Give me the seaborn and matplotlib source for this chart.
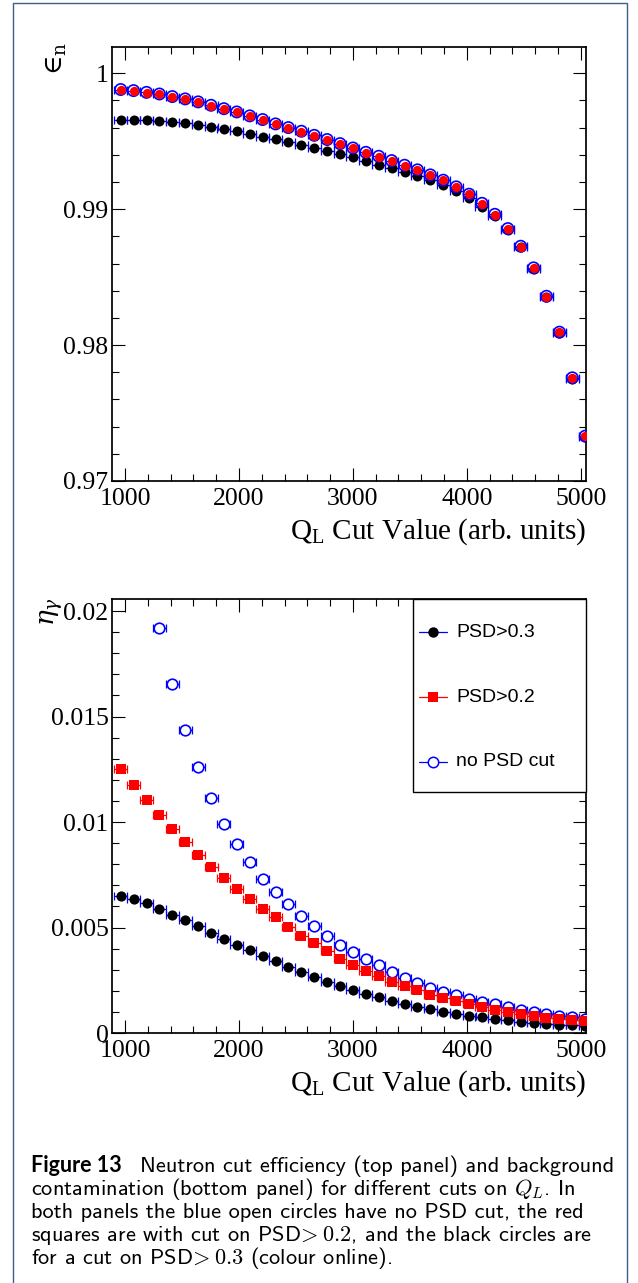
import numpy as np
import matplotlib
matplotlib.use("Agg")
import matplotlib.pyplot as plt
import seaborn as sns
from matplotlib.ticker import MultipleLocator, FuncFormatter
from matplotlib.lines import Line2D
from matplotlib.patches import Rectangle

# ---------------- data ----------------
x_cut = [962, 1075, 1189, 1302, 1415, 1528, 1642, 1755, 1868, 1981, 2095, 2208,
         2321, 2434, 2548, 2661, 2774, 2887, 3001, 3114, 3227, 3340, 3454, 3567,
         3680, 3793, 3907, 4020, 4133, 4246, 4360, 4473, 4586, 4699, 4813, 4926, 5039]
x_halfbin = 57

# top panel: neutron efficiency
eff_psd03 = [0.99657, 0.99657, 0.99654, 0.99649, 0.99640, 0.99632, 0.99618, 0.99603,
             0.99588, 0.99574, 0.99554, 0.99534, 0.99515, 0.99495, 0.99475, 0.99453,
             0.99429, 0.99404, 0.99380, 0.99355, 0.99328, 0.99301, 0.99272, 0.99245,
             0.99215, 0.99179, 0.99137, 0.99085, 0.99019, 0.98946, 0.98843, 0.98718,
             0.98560, 0.98352, 0.98089, 0.97753, 0.97325]
eff_psd02 = [0.99877, 0.99870, 0.99857, 0.99845, 0.99826, 0.99809, 0.99787, 0.99762,
             0.99737, 0.99713, 0.99684, 0.99657, 0.99625, 0.99598, 0.99571, 0.99541,
             0.99510, 0.99480, 0.99448, 0.99416, 0.99387, 0.99355, 0.99321, 0.99287,
             0.99250, 0.99211, 0.99162, 0.99108, 0.99041, 0.98960, 0.98855, 0.98725,
             0.98566, 0.98357, 0.98093, 0.97757, 0.97328]
eff_nocut = [0.99880, 0.99872, 0.99859, 0.99847, 0.99828, 0.99811, 0.99789, 0.99764,
             0.99739, 0.99715, 0.99686, 0.99659, 0.99627, 0.99600, 0.99573, 0.99543,
             0.99512, 0.99482, 0.99450, 0.99418, 0.99389, 0.99357, 0.99323, 0.99289,
             0.99252, 0.99213, 0.99164, 0.99110, 0.99043, 0.98962, 0.98857, 0.98727,
             0.98568, 0.98359, 0.98095, 0.97759, 0.97330]

# bottom panel: background contamination
eta_psd03 = [0.00648, 0.00635, 0.00616, 0.00590, 0.00561, 0.00534, 0.00506, 0.00476,
             0.00446, 0.00419, 0.00392, 0.00367, 0.00342, 0.00315, 0.00290, 0.00266,
             0.00243, 0.00222, 0.00203, 0.00184, 0.00169, 0.00153, 0.00139, 0.00124,
             0.00112, 0.00101, 0.00091, 0.00082, 0.00074, 0.00066, 0.00060, 0.00053,
             0.00049, 0.00044, 0.00039, 0.00036, 0.00033]
eta_psd02 = [0.01250, 0.01174, 0.01105, 0.01035, 0.00968, 0.00905, 0.00845, 0.00788,
             0.00733, 0.00684, 0.00637, 0.00590, 0.00548, 0.00504, 0.00462, 0.00426,
             0.00388, 0.00353, 0.00322, 0.00296, 0.00271, 0.00244, 0.00224, 0.00202,
             0.00181, 0.00164, 0.00150, 0.00136, 0.00122, 0.00110, 0.00099, 0.00090,
             0.00080, 0.00072, 0.00066, 0.00060, 0.00055]
eta_nocut = [np.nan, np.nan, np.nan, 0.01918, 0.01652, 0.01434, 0.01259, 0.01114,
             0.00991, 0.00894, 0.00809, 0.00731, 0.00668, 0.00610, 0.00553, 0.00506,
             0.00462, 0.00419, 0.00383, 0.00350, 0.00320, 0.00288, 0.00262, 0.00235,
             0.00214, 0.00195, 0.00178, 0.00162, 0.00148, 0.00136, 0.00121, 0.00110,
             0.00099, 0.00090, 0.00082, 0.00076, 0.00068]

legend_labels = ["PSD>0.3", "PSD>0.2", "no PSD cut"]
x_title = r"$\mathregular{Q_{L}}$ Cut Value (arb. units)"
y_title_top = "\u2208" + r"$_{\mathrm{n}}$"
y_title_bottom = r"$\eta_{\gamma}$"
caption_bold = "Figure 13"
caption_lines = [
    "Neutron cut efficiency (top panel) and background",
    r"contamination (bottom panel) for different cuts on $Q_L$. In",
    "both panels the blue open circles have no PSD cut, the red",
    r"squares are with cut on PSD$\!>0.2$, and the black circles are",
    r"for a cut on PSD$\!>0.3$ (colour online).",
]

# ---------------- style ----------------
sns.set_theme(style="ticks")
plt.rcParams["font.family"] = ["Liberation Serif", "DejaVu Serif"]
plt.rcParams["mathtext.fontset"] = "dejavuserif"

RED = "#ff0000"
BLUE = "#0000ff"
BLACK = "#000000"

W, H = 638, 1283
fig = plt.figure(figsize=(W / 100, H / 100), dpi=100)
fig.patch.set_facecolor("white")


def rect(l, t, r, b):
    return [l / W, 1 - b / H, (r - l) / W, (b - t) / H]


ax1 = fig.add_axes(rect(112, 46.7, 586, 481))
ax2 = fig.add_axes(rect(112, 599, 586, 1033))

fmt = FuncFormatter(lambda v, p: f"{v:g}")


def style(ax):
    for s in ax.spines.values():
        s.set_linewidth(1.25)
        s.set_color("black")
    ax.set_facecolor("white")
    ax.tick_params(which="both", direction="in", top=True, right=True,
                   width=0.8, color="black", labelsize=18.5, labelcolor="black")
    ax.tick_params(which="major", length=9.5)
    ax.tick_params(which="minor", length=5)
    ax.tick_params(axis="y", pad=2.5)
    ax.tick_params(axis="x", pad=5)
    ax.xaxis.set_major_locator(MultipleLocator(1000))
    ax.xaxis.set_minor_locator(MultipleLocator(200))
    ax.xaxis.set_major_formatter(fmt)
    ax.yaxis.set_major_formatter(fmt)
    ax.set_xlim(886, 5046)
    ax.grid(False)
    ax.set_xlabel(x_title, fontsize=21, loc="right", color="black")
    ax.xaxis.set_label_coords(1.0, -0.082)
    ax.set_ylabel("")


def errbars(ax, y, col, z):
    ax.errorbar(x_cut, y, xerr=x_halfbin, fmt="none", ecolor=col,
                elinewidth=0.9, capsize=3.2, capthick=0.9, zorder=z)


# ---- top panel ----
errbars(ax1, eff_psd03, BLUE, 2)
sns.scatterplot(x=x_cut, y=eff_psd03, ax=ax1, marker="o", s=52, color=BLACK,
                linewidth=0, zorder=3, legend=False)
errbars(ax1, eff_nocut, BLUE, 4)
sns.scatterplot(x=x_cut, y=eff_nocut, ax=ax1, marker="o", s=66, color="none",
                edgecolor=BLUE, linewidth=1.2, zorder=5, legend=False)
sns.scatterplot(x=x_cut, y=eff_psd02, ax=ax1, marker="o", s=44, color=RED,
                linewidth=0, zorder=6, legend=False)
ax1.set_ylim(0.97, 1.00195)
ax1.yaxis.set_major_locator(MultipleLocator(0.01))
ax1.yaxis.set_minor_locator(MultipleLocator(0.002))
style(ax1)

# ---- bottom panel ----
errbars(ax2, eta_psd03, BLUE, 2)
sns.scatterplot(x=x_cut, y=eta_psd03, ax=ax2, marker="o", s=54, color=BLACK,
                linewidth=0, zorder=3, legend=False)
errbars(ax2, eta_nocut, BLUE, 4)
sns.scatterplot(x=x_cut, y=eta_nocut, ax=ax2, marker="o", s=58, color="white",
                edgecolor=BLUE, linewidth=1.2, zorder=5, legend=False)
errbars(ax2, eta_psd02, RED, 6)
sns.scatterplot(x=x_cut, y=eta_psd02, ax=ax2, marker="s", s=44, color=RED,
                linewidth=0, zorder=7, legend=False)
ax2.set_ylim(0, 0.02057)
ax2.yaxis.set_major_locator(MultipleLocator(0.005))
ax2.yaxis.set_minor_locator(MultipleLocator(0.001))
style(ax2)

# legend box (ROOT style, touching the frame)
lx0, lx1 = (413 - 112) / 474, 1.0
ly0, ly1 = (1033 - 792) / 434, 1.0
ax2.add_patch(Rectangle((lx0, ly0), lx1 - lx0, ly1 - ly0, transform=ax2.transAxes,
                        facecolor="white", edgecolor="black", linewidth=1.0,
                        zorder=10, clip_on=False))
entry_y = [(1033 - 632) / 434, (1033 - 697) / 434, (1033 - 762) / 434]
entry_style = [
    dict(color=BLUE, marker="o", mfc=BLACK, mec=BLACK, ms=7.5),
    dict(color=RED, marker="s", mfc=RED, mec=RED, ms=7.5),
    dict(color=BLUE, marker="o", mfc="white", mec=BLUE, ms=7.5, mew=1.1),
]
hx0, hx1 = (419 - 112) / 474, (447 - 112) / 474
for yy, lab, st in zip(entry_y, legend_labels, entry_style):
    ax2.add_line(Line2D([hx0, hx1], [yy, yy], transform=ax2.transAxes,
                        color=st["color"], lw=0.9, zorder=11))
    ax2.add_line(Line2D([(hx0 + hx1) / 2], [yy], transform=ax2.transAxes,
                        linestyle="none", marker=st["marker"], markersize=st["ms"],
                        markerfacecolor=st["mfc"], markeredgecolor=st["mec"],
                        markeredgewidth=st.get("mew", 0), zorder=12))
    ax2.text((456 - 112) / 474, yy, lab, transform=ax2.transAxes, ha="left",
             va="center", fontsize=14, family=["Liberation Sans", "DejaVu Sans"],
             color="black", zorder=12)

# y titles (ROOT style, at the top end of the axis)
fig.text(56 / W, 1 - 42 / H, y_title_top, rotation=90, ha="center", va="top",
         fontsize=19, color="black", family=["DejaVu Serif"])
fig.text(52 / W, 1 - 597 / H, y_title_bottom, rotation=90, ha="center", va="top",
         fontsize=19, color="black")

# caption
cap_base = [1172, 1195, 1218, 1241, 1264]
fig.text(31 / W, 1 - cap_base[0] / H, caption_bold, ha="left", va="baseline",
         fontsize=15.5, weight="bold", family=["Lato", "DejaVu Sans"], color="black")
for i, line in enumerate(caption_lines):
    x0 = 140 if i == 0 else 31
    fig.text(x0 / W, 1 - cap_base[i] / H, line, ha="left", va="baseline",
             fontsize=16.1, family=["cmss10", "DejaVu Sans"], math_fontfamily="cm",
             color="black")

# outer frame of the figure panel
fig.patches.append(Rectangle((13 / W, -0.01), (626.6 - 13) / W, 1.01 - 2.7 / H,
                             transform=fig.transFigure, fill=False,
                             edgecolor="#3b5f8a", linewidth=1.0))

fig.savefig("out.png", dpi=100, facecolor="white")
